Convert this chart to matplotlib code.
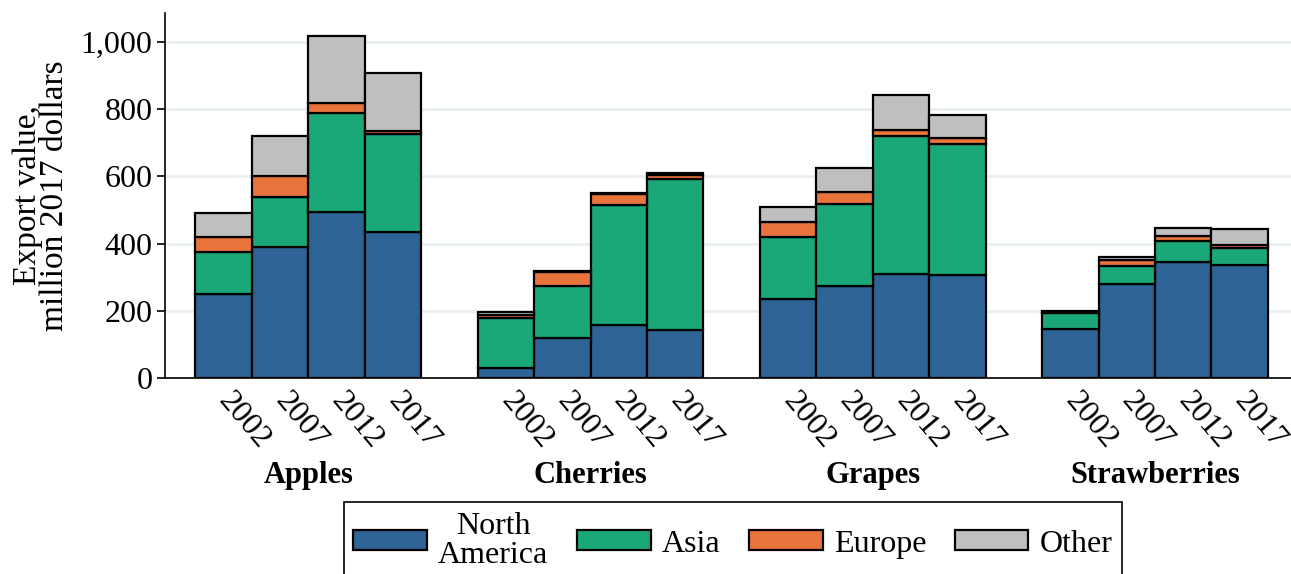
import matplotlib
matplotlib.use("Agg")
import matplotlib.pyplot as plt
import matplotlib.transforms as mtransforms
from matplotlib.ticker import FuncFormatter
import numpy as np

plt.rcParams['font.family'] = ['Liberation Serif', 'DejaVu Serif']

fruits = ["Apples", "Cherries", "Grapes", "Strawberries"]
years = ["2002", "2007", "2012", "2017"]
regions = ["North\nAmerica", "Asia", "Europe", "Other"]
colors = ["#2E6396", "#1BA878", "#E8743B", "#BFBFBF"]

# export value, million 2017 dollars; one row per fruit, one column per year
north_america = [[250, 391, 493, 435],
                 [31, 119, 158, 143],
                 [235, 275, 310, 307],
                 [146, 280, 345, 337]]
asia = [[125, 149, 295, 292],
        [149, 155, 358, 450],
        [186, 242, 410, 388],
        [47, 54, 63, 51]]
europe = [[46, 62, 29, 9],
          [6, 40, 31, 12],
          [44, 36, 18, 18],
          [3, 17, 14, 8]]
other = [[69, 117, 202, 172],
         [10, 3, 3, 4],
         [45, 73, 104, 71],
         [4, 10, 25, 47]]

series = [north_america, asia, europe, other]

fig = plt.figure(figsize=(12.91, 5.74), dpi=100)
ax = fig.add_axes([165 / 1291, 1 - 378 / 574, 1 - 165 / 1291, (378 - 13) / 574])

positions = []
labels = []
for g, fruit in enumerate(fruits):
    for j, yr in enumerate(years):
        positions.append(g * 5 + j)
        labels.append(yr)
positions = np.array(positions)

bottom = np.zeros(len(positions))
handles = []
for name, data, col in zip(regions, series, colors):
    vals = np.array(data, dtype=float).ravel()
    h = ax.bar(positions, vals, width=1.0, bottom=bottom, color=col,
               edgecolor="black", linewidth=1.6, label=name, zorder=3)
    handles.append(h)
    bottom += vals

ax.set_xlim(-1.04, 18.91)
ax.set_ylim(0, 1086)
ax.set_yticks([0, 200, 400, 600, 800, 1000])
ax.yaxis.set_major_formatter(FuncFormatter(lambda v, p: f"{int(v):,}"))
ax.tick_params(axis="y", labelsize=23, length=6, width=1.2, color="black", pad=3)
ax.grid(axis="y", color="#E9F0F2", linewidth=2, zorder=0)
ax.set_axisbelow(True)

ax.set_xticks(positions)
ax.set_xticklabels(labels, rotation=-50, ha="left", va="center",
                   rotation_mode="anchor", fontsize=23)
ax.tick_params(axis="x", length=0, pad=13)

for side in ["top", "right"]:
    ax.spines[side].set_visible(False)
ax.spines["left"].set_linewidth(1.2)
ax.spines["bottom"].set_linewidth(1.2)

ax.set_ylabel("Export value,\nmillion 2017 dollars", fontsize=24, linespacing=0.85,
              labelpad=8)

trans = mtransforms.blended_transform_factory(ax.transData, ax.transAxes)
for g, fruit in enumerate(fruits):
    ax.text(g * 5 + 1.5, -0.266, fruit, transform=trans, ha="center", va="center",
            fontsize=22, fontweight="bold")

leg = fig.legend(handles=handles, labels=regions, loc="upper center",
                 bbox_to_anchor=(733 / 1291, 1 - 502 / 574), ncol=4,
                 fontsize=23, frameon=True, fancybox=False, edgecolor="black",
                 framealpha=1.0,
                 handlelength=2.3, handleheight=0.6, handletextpad=0.35,
                 columnspacing=0.9, borderpad=0.3, labelspacing=0.2,
                 borderaxespad=0)
leg.get_frame().set_linewidth(1.2)
for t in leg.get_texts():
    t.set_multialignment("center")
    t.set_linespacing(1.0)

fig.savefig("out.png", dpi=100)
